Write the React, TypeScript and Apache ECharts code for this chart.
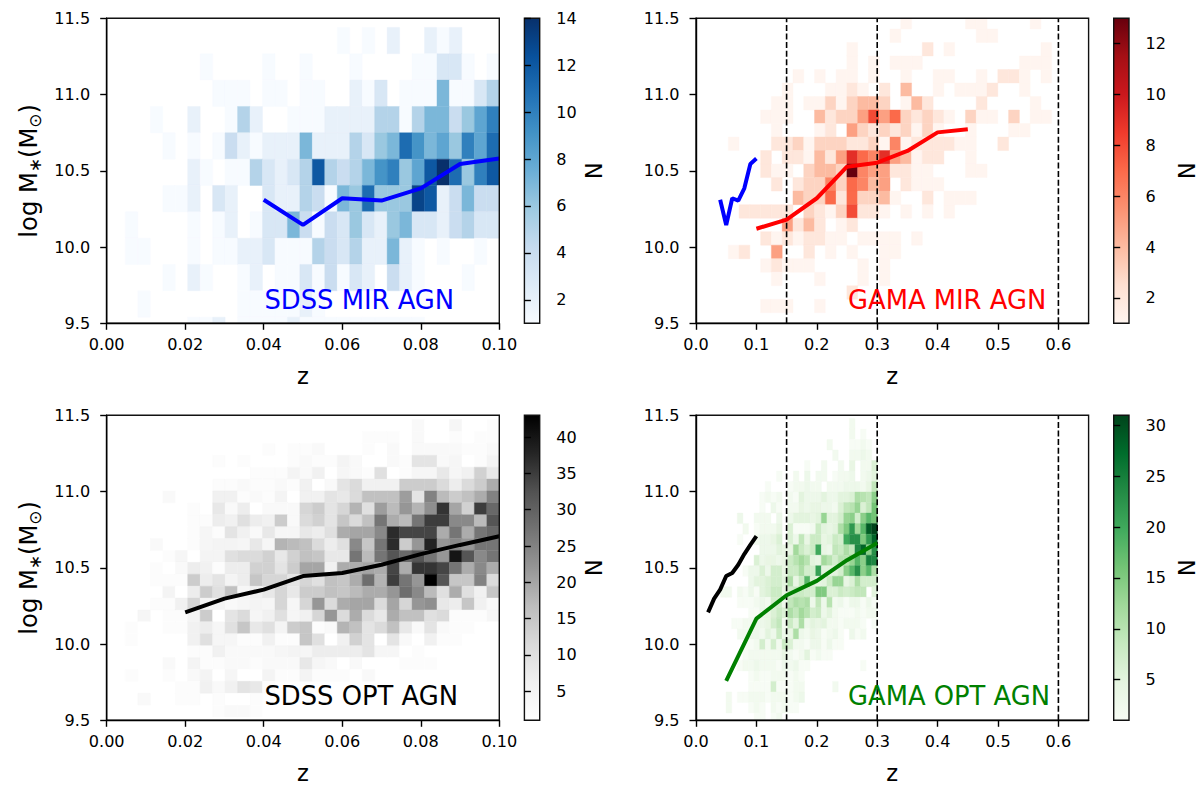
import React, { useEffect, useRef } from "react";
import * as echarts from "echarts";

// ---- histogram counts, top row first, left column first ----
const sdssMirCounts = [
  [0,0,0,0,0,0,0,0,0,0,0,0,0,0,0,0,0,0,0,1,0,1,0,2,0,0,2,1,2,0,0,0],
  [0,0,0,0,0,0,0,0,1,0,0,0,0,1,0,0,1,0,0,0,1,0,0,0,0,1,1,3,3,1,0,1],
  [0,0,0,0,0,0,0,0,0,1,1,1,0,1,1,0,1,1,0,0,2,1,3,0,1,1,1,7,1,1,3,5],
  [0,0,0,0,1,0,0,2,0,0,1,5,2,0,0,1,1,1,2,2,2,2,5,5,1,5,7,7,4,6,8,10],
  [0,0,0,0,0,1,0,1,0,1,4,2,1,2,2,2,7,2,2,2,5,3,6,7,11,9,7,8,6,10,8,11],
  [0,0,0,0,0,0,0,2,1,0,1,1,5,3,2,3,5,12,5,4,5,7,9,10,6,8,12,14,11,6,10,12],
  [0,0,0,0,0,1,1,2,0,3,2,0,0,3,2,2,5,4,1,7,6,11,6,6,6,13,12,2,4,7,4,4],
  [0,0,1,0,0,0,0,1,0,1,2,0,1,3,3,7,4,1,4,3,6,3,2,6,7,3,3,2,4,5,3,3],
  [0,0,1,1,0,0,0,1,0,1,1,2,2,3,1,1,1,5,4,3,5,2,2,7,2,1,0,1,0,0,1,0],
  [0,0,0,0,0,1,0,2,1,0,0,1,2,0,1,1,3,1,4,1,3,2,0,4,2,1,0,0,0,1,0,0],
  [0,0,0,1,0,0,0,0,0,0,0,1,1,1,1,1,2,1,0,0,0,0,0,0,0,0,0,0,0,0,0,0],
  [0,0,0,0,0,0,0,1,1,2,0,1,1,1,1,2,1,1,1,1,1,1,1,1,1,1,0,0,0,0,0,0],
];

const gamaMirCounts = [
  [0,0,0,0,0,0,0,0,0,0,0,0,0,0,0,0,1,0,0,0,0,0,1,1,0,0,0,0,1,0,0],
  [0,0,0,0,0,0,0,0,0,0,0,0,0,0,0,1,0,0,0,0,0,0,0,1,1,0,0,0,0,0,0],
  [0,0,0,0,0,0,0,0,0,0,0,1,0,0,0,0,0,0,2,0,1,0,0,0,0,0,0,0,0,1,0],
  [0,0,0,0,0,0,0,0,0,0,0,1,0,1,0,1,1,1,0,0,0,0,0,0,0,0,0,1,1,1,0],
  [0,0,0,0,0,0,1,0,1,0,1,1,0,1,0,0,1,0,0,1,1,0,0,1,0,2,2,1,0,1,0],
  [0,0,0,0,0,1,0,0,0,1,1,2,1,0,2,0,4,0,0,1,0,1,1,1,2,0,0,1,0,0,0],
  [0,0,0,0,1,1,0,1,1,3,1,3,4,4,3,0,1,4,2,0,0,0,0,2,0,0,0,0,1,0,0],
  [0,0,0,1,1,1,0,0,4,2,3,3,5,8,5,7,3,2,3,2,1,0,3,1,1,0,3,0,1,1,0],
  [0,0,0,0,1,0,0,0,1,2,0,5,3,2,3,2,3,1,3,1,0,0,1,0,0,0,1,1,0,0,0],
  [1,0,0,0,2,2,3,1,3,3,3,2,2,3,1,6,1,2,2,2,2,1,1,0,0,2,0,0,0,0,0],
  [0,0,0,2,0,2,2,1,4,2,5,9,7,6,9,5,4,1,2,2,0,0,1,0,0,0,0,0,0,0,0],
  [0,0,0,2,1,1,0,3,4,4,3,13,6,5,5,2,2,1,1,0,0,0,1,1,0,0,0,0,0,0,0],
  [0,0,0,0,2,0,2,3,3,6,3,7,6,4,5,0,2,1,1,1,0,0,0,0,0,0,0,0,0,0,0],
  [0,0,0,0,0,0,4,3,3,7,2,7,3,3,4,1,0,0,2,0,1,1,1,0,0,0,0,0,0,0,0],
  [0,2,2,2,2,2,0,3,2,1,3,8,2,2,1,0,1,0,1,0,1,0,0,0,0,0,0,0,0,0,0],
  [0,0,0,0,0,5,2,4,2,0,1,2,0,0,0,0,0,0,0,0,0,0,0,0,0,0,0,0,0,0,0],
  [0,0,0,2,1,2,1,2,2,1,1,0,1,1,1,1,0,1,0,0,0,0,0,0,0,0,0,0,0,0,0],
  [1,2,0,0,5,0,0,2,0,1,0,1,0,0,1,1,0,0,0,0,0,0,0,0,0,0,0,0,0,0,0],
  [0,0,0,1,2,1,1,1,0,0,0,0,1,0,1,0,0,0,0,0,0,0,0,0,0,0,0,0,0,0,0],
  [0,0,0,0,1,0,0,0,1,0,0,0,1,0,1,0,0,0,0,0,0,0,0,0,0,0,0,0,0,0,0],
  [0,0,0,0,0,0,0,0,0,0,0,2,0,0,0,0,0,0,0,0,0,0,0,0,0,0,0,0,0,0,0],
  [0,0,0,1,1,1,0,0,1,0,0,0,0,0,0,0,0,0,0,0,0,0,0,0,0,0,0,0,0,0,0],
];

const sdssOptCounts = [
  [0,0,0,0,0,0,0,0,0,0,0,0,0,0,0,0,1,1,1,1,1,1,1,1,1,3,1,1,4,1,1,2],
  [0,0,0,0,0,0,0,0,0,0,0,0,0,0,0,0,1,1,1,1,1,2,2,2,1,3,1,1,2,1,2,2],
  [0,0,0,0,0,0,0,0,0,0,0,0,0,2,0,2,2,3,1,1,1,2,1,3,1,3,3,3,3,2,2,3],
  [0,0,0,0,0,0,0,0,0,2,0,2,0,0,0,2,3,2,2,5,3,1,1,3,2,9,9,3,4,1,2,5],
  [0,0,0,0,0,0,0,0,1,0,0,1,2,2,2,5,3,6,1,4,3,2,10,1,2,4,4,8,4,6,13,8],
  [0,0,0,0,0,0,0,0,1,2,2,3,2,2,3,2,6,1,3,9,11,6,6,6,14,14,14,11,7,11,14,19],
  [0,0,0,0,0,3,0,0,0,6,6,2,3,2,5,1,6,6,9,8,11,16,16,16,21,9,25,17,14,16,19,25],
  [0,0,0,0,0,0,0,2,1,8,3,7,1,3,3,3,12,14,9,12,18,10,21,17,22,18,23,36,20,13,35,29],
  [0,0,0,0,0,0,0,2,2,7,6,10,7,6,14,3,11,13,9,15,11,16,27,19,17,27,35,35,24,24,17,32],
  [0,0,0,0,0,0,0,2,4,2,9,6,3,8,4,4,8,7,10,19,20,20,24,37,34,34,34,19,27,19,27,29],
  [0,0,0,0,3,0,0,2,4,5,5,4,8,4,18,17,16,11,7,10,24,15,27,37,14,22,38,22,24,22,27,27],
  [0,0,0,0,0,2,4,1,5,5,10,11,11,13,8,13,16,15,8,8,27,17,27,32,29,32,27,22,40,32,24,27],
  [0,0,0,0,2,1,3,7,6,2,7,7,13,13,9,14,20,20,6,19,19,20,19,34,19,36,36,34,27,19,24,19],
  [0,0,0,0,2,2,2,14,7,9,5,7,15,12,12,9,12,10,16,15,19,28,18,35,27,22,43,32,15,15,25,11],
  [0,0,0,0,0,5,1,7,14,10,16,4,6,8,12,8,14,14,16,15,17,19,19,22,28,24,17,10,19,10,6,15],
  [0,0,0,0,2,2,6,12,5,5,3,4,5,4,12,4,12,22,11,19,20,20,11,20,12,22,23,8,7,15,6,3],
  [0,0,0,4,0,2,2,5,14,1,9,11,4,6,10,4,6,12,22,11,19,11,8,19,16,16,10,11,2,2,2,4],
  [0,0,2,1,1,2,2,6,7,4,10,15,8,10,5,14,15,2,3,18,16,9,11,16,8,3,9,3,2,2,1,1],
  [0,0,2,1,1,1,1,6,10,4,4,2,2,6,2,2,15,10,1,6,13,9,1,9,3,1,6,2,2,1,1,1],
  [0,0,0,0,0,0,0,2,2,6,3,3,3,3,4,5,4,7,7,7,7,9,4,4,1,2,1,1,1,1,1,1],
  [0,0,0,0,0,3,0,5,2,2,3,3,2,3,3,3,8,4,3,1,3,1,1,1,2,2,2,0,0,0,0,0],
  [0,0,2,0,0,2,0,3,5,1,4,1,1,5,2,2,5,2,2,2,1,3,0,0,0,0,0,0,0,0,0,0],
  [0,0,0,0,0,0,2,2,6,3,6,9,8,2,0,0,0,0,0,0,0,0,0,0,0,0,0,0,0,0,0,0],
  [0,0,0,3,0,0,2,2,0,2,1,1,2,0,0,0,0,0,0,0,0,0,0,0,0,0,0,0,0,0,0,0],
  [0,0,0,0,0,0,0,0,0,2,3,3,2,1,0,0,0,0,0,0,0,0,0,0,0,0,0,0,0,0,0,0],
];

const gamaOptCounts = [
  [0,0,0,0,0,0,0,0,0,0,0,0,0,0,0,0,0,0,0,0,0,0,0,2,0,0,0,0],
  [0,0,0,0,0,0,0,0,0,0,0,0,0,0,0,0,0,0,0,0,0,0,0,2,0,1,0,0],
  [0,0,0,0,0,0,0,0,0,0,0,0,0,0,0,0,0,0,0,2,0,0,0,1,1,2,1,0],
  [0,0,0,0,0,0,0,0,0,0,0,0,0,0,0,0,0,0,0,0,2,0,0,2,2,3,2,0],
  [0,0,0,0,0,0,0,0,0,0,0,0,0,0,0,1,0,0,2,0,0,2,0,4,0,2,2,6],
  [0,0,0,0,0,0,0,0,0,0,1,0,0,2,0,3,0,2,2,0,1,2,2,3,0,2,3,5],
  [0,0,0,0,0,0,0,0,1,0,0,0,1,2,2,3,2,2,0,2,2,2,3,3,3,2,4,9],
  [0,0,0,0,0,0,0,1,2,1,2,0,2,1,5,3,3,3,5,3,3,5,5,6,11,10,9,14],
  [0,0,0,0,0,0,0,1,0,3,1,0,2,2,4,3,4,4,3,3,2,6,9,10,13,6,9,16],
  [0,0,0,3,0,0,2,2,2,0,3,0,3,5,5,5,4,5,13,5,5,7,13,14,7,14,18,16],
  [0,0,0,0,2,0,1,2,2,2,4,0,6,1,1,1,2,8,5,4,5,11,15,22,12,18,29,31],
  [0,0,0,1,0,0,2,3,3,4,6,0,6,3,9,4,8,8,4,5,8,7,20,23,23,15,22,28],
  [0,0,0,0,0,0,0,3,3,3,5,4,4,12,8,6,8,20,4,3,9,8,11,9,24,28,14,23],
  [0,0,0,0,0,0,6,3,4,4,3,4,8,10,12,10,5,4,12,10,7,10,10,13,18,14,25,24],
  [0,0,0,0,1,3,3,6,3,7,7,4,8,8,11,7,7,21,5,5,5,7,14,18,23,14,18,11],
  [0,0,0,0,0,3,5,5,6,7,7,5,11,4,8,18,6,4,5,8,13,13,4,6,11,7,7,7],
  [2,2,0,2,1,3,1,5,6,8,8,4,7,8,8,7,7,15,15,6,6,8,7,8,9,9,0,5],
  [0,0,0,1,1,1,2,3,2,7,7,3,9,11,10,11,3,9,3,10,2,3,1,3,3,1,3,1],
  [0,0,0,0,0,1,1,3,4,6,8,6,11,9,12,10,7,8,3,5,2,1,1,1,2,1,2,2],
  [0,0,1,1,2,2,3,3,4,7,9,2,8,5,11,3,5,4,5,2,2,1,2,2,2,1,0,1],
  [0,0,0,2,2,3,3,2,5,3,8,3,4,11,3,2,4,3,1,2,3,1,0,3,1,2,0,0],
  [0,0,0,0,1,1,2,7,2,7,2,8,6,2,2,1,3,3,1,3,1,1,0,0,0,0,0,0],
  [0,0,0,0,1,2,2,2,2,2,2,4,2,1,2,5,1,2,1,1,0,0,0,0,0,0,0,0],
  [0,0,0,1,2,2,3,2,2,2,1,3,2,3,1,1,0,0,0,0,0,0,0,0,0,1,0,0],
  [0,0,0,0,0,1,2,1,1,2,2,2,1,2,1,0,0,0,0,0,0,0,0,0,0,0,0,0],
  [0,0,0,0,0,1,1,1,1,7,1,1,1,2,2,0,0,0,0,0,2,0,0,0,0,0,0,0],
  [0,2,0,1,1,2,2,2,1,2,2,2,1,2,3,0,0,0,0,0,0,0,0,0,0,0,0,0],
  [0,2,0,0,0,1,2,1,0,2,1,2,1,1,0,0,0,0,0,0,0,0,0,0,0,0,0,0],
  [0,0,0,0,0,0,1,1,0,1,2,0,0,0,0,0,0,0,0,0,0,0,0,0,0,0,0,0],
];

// ---- median lines ----
const sdssMirLine = [[0.04,10.31],[0.05,10.145],[0.06,10.32],[0.07,10.305],[0.08,10.385],[0.09,10.545],[0.1,10.58]];
const gamaMirLine = [[0.1,10.12],[0.15,10.18],[0.2,10.32],[0.25,10.527],[0.3,10.553],[0.35,10.63],[0.4,10.752],[0.45,10.772]];
const sdssOptLine = [[0.02,10.208],[0.03,10.298],[0.04,10.357],[0.05,10.446],[0.06,10.466],[0.07,10.52],[0.08,10.59],[0.09,10.65],[0.1,10.707]];
const gamaOptLine = [[0.05,9.758],[0.1,10.167],[0.15,10.32],[0.2,10.414],[0.25,10.55],[0.3,10.663]];

// ---- redshift cuts and ticks ----
const zCuts = [0.15, 0.3, 0.6];
const sdssZTicks = 0.02;
const gamaZTicks = 0.1;
const cbarTicksMir = [2, 4, 6, 8, 10, 12, 14];
const cbarTicksGama = [2, 4, 6, 8, 10, 12];
const cbarTicksOpt = [5, 10, 15, 20, 25, 30, 35, 40];
const cbarTicksGamaOpt = [5, 10, 15, 20, 25, 30];

// ---- colormaps ----
const Blues = ["#f7fbff","#deebf7","#c6dbef","#9ecae1","#6baed6","#4292c6","#2171b5","#08519c","#08306b"];
const Reds = ["#fff5f0","#fee0d2","#fcbba1","#fc9272","#fb6a4a","#ef3b2c","#cb181d","#a50f15","#67000d"];
const Greys = ["#ffffff","#f0f0f0","#d9d9d9","#bdbdbd","#969696","#737373","#525252","#252525","#000000"];
const Greens = ["#f7fcf5","#e5f5e0","#c7e9c0","#a1d99b","#74c476","#41ab5d","#238b45","#006d2c","#00441b"];

const FONT = '"DejaVu Sans"';

function hex(c: string) {
  return [1, 3, 5].map((i) => parseInt(c.slice(i, i + 2), 16));
}
function cmap(stops: string[], t: number) {
  const s = Math.max(0, Math.min(1, t)) * (stops.length - 1);
  const i = Math.min(stops.length - 2, Math.floor(s));
  const a = hex(stops[i]);
  const b = hex(stops[i + 1]);
  const f = s - i;
  return `rgb(${a.map((v, j) => Math.round(v + (b[j] - v) * f)).join(",")})`;
}

type Panel = {
  counts: number[][];
  zStart: number; zStep: number; yTop: number; yStep: number;
  stops: string[]; vmax: number; cbarTicks: number[];
  left: number; top: number; xMax: number; xStep: number; xDigits: number;
  lines: { data: number[][]; color: string }[];
  cuts: number[];
  label: string; labelColor: string; labelX: number; labelY: number;
  yName: boolean; nGap: number;
};

const W = 392.6;
const H = 305;
const panels: Panel[] = [
  {
    counts: sdssMirCounts, zStart: -0.1 / 63, zStep: 0.1 / 31.5, yTop: 11.44, yStep: 0.1727,
    stops: Blues, vmax: 14, cbarTicks: cbarTicksMir,
    left: 106.7, top: 18.3, xMax: 0.1, xStep: sdssZTicks, xDigits: 2,
    lines: [{ data: sdssMirLine, color: "#0000ff" }], cuts: [],
    label: "SDSS MIR AGN", labelColor: "#0000ff", labelX: 264.5, labelY: 299.5, yName: true, nGap: 42,
  },
  {
    counts: gamaMirCounts, zStart: 0.05344, zStep: 0.01785, yTop: 11.519, yStep: 0.08863,
    stops: Reds, vmax: 13, cbarTicks: cbarTicksGama,
    left: 696, top: 18.3, xMax: 0.65, xStep: gamaZTicks, xDigits: 1,
    lines: [{ data: sdssMirLine, color: "#0000ff" }, { data: gamaMirLine, color: "#ff0000" }], cuts: zCuts,
    label: "GAMA MIR AGN", labelColor: "#ff0000", labelX: 848, labelY: 299.5, yName: false, nGap: 45,
  },
  {
    counts: sdssOptCounts, zStart: -0.1 / 63, zStep: 0.1 / 31.5, yTop: 11.472, yStep: 0.07803,
    stops: Greys, vmax: 43, cbarTicks: cbarTicksOpt,
    left: 106.7, top: 415.3, xMax: 0.1, xStep: sdssZTicks, xDigits: 2,
    lines: [{ data: sdssOptLine, color: "#000000" }], cuts: [],
    label: "SDSS OPT AGN", labelColor: "#000000", labelX: 264.5, labelY: 696, yName: true, nGap: 42,
  },
  {
    counts: gamaOptCounts, zStart: 0.0405, zStep: 0.009278, yTop: 11.4795, yStep: 0.06898,
    stops: Greens, vmax: 31, cbarTicks: cbarTicksGamaOpt,
    left: 696, top: 415.3, xMax: 0.65, xStep: gamaZTicks, xDigits: 1,
    lines: [{ data: sdssOptLine, color: "#000000" }, { data: gamaOptLine, color: "#008000" }], cuts: zCuts,
    label: "GAMA OPT AGN", labelColor: "#008000", labelX: 848, labelY: 696, yName: false, nGap: 45,
  },
];

const AX = { color: "#000", width: 1.4 };

function buildOption() {
  const grid: any[] = [];
  const xAxis: any[] = [];
  const yAxis: any[] = [];
  const series: any[] = [];
  const graphic: any[] = [];

  panels.forEach((p) => {
    const gi = grid.length;
    grid.push({ left: p.left, top: p.top, width: W, height: H, show: true, borderColor: "#111", borderWidth: 1.4, backgroundColor: "transparent", z: 5 });
    xAxis.push({
      type: "value", gridIndex: gi, min: 0, max: p.xMax, interval: p.xStep, z: 6,
      name: "z", nameLocation: "middle", nameGap: 41,
      nameTextStyle: { fontFamily: FONT, fontSize: 22.6, color: "#000" },
      axisLine: { show: true, onZero: false, lineStyle: AX },
      axisTick: { show: true, length: 6.5, lineStyle: AX },
      splitLine: { show: false },
      axisLabel: {
        fontFamily: FONT, fontSize: 16.1, color: "#000", margin: 13, showMaxLabel: p.xMax === 0.1,
        hideOverlap: false,
        formatter: (v: number) => (v > p.xMax - 0.001 && p.xMax !== 0.1 ? "" : v.toFixed(p.xDigits)),
      },
    });
    yAxis.push({
      type: "value", gridIndex: gi, min: 9.5, max: 11.5, interval: 0.5, z: 6,
      ...(p.yName
        ? {
            name: "{a|log M}{b|∗}{a|(M}{b|⊙}{a|)}", nameLocation: "middle", nameGap: 63, nameRotate: 90,
            nameTextStyle: {
              fontFamily: FONT, fontSize: 24.2, color: "#000",
              rich: {
                a: { fontFamily: FONT, fontSize: 24.2, color: "#000", lineHeight: 30, verticalAlign: "middle" },
                b: { fontFamily: FONT, fontSize: 17, color: "#000", lineHeight: 30, verticalAlign: "bottom" },
              },
            },
          }
        : {}),
      axisLine: { show: true, onZero: false, lineStyle: AX },
      axisTick: { show: true, length: 6.5, lineStyle: AX },
      splitLine: { show: false },
      axisLabel: { fontFamily: FONT, fontSize: 16.1, color: "#000", margin: 16.5, formatter: (v: number) => v.toFixed(1) },
    });

    const cells: number[][] = [];
    p.counts.forEach((row, r) =>
      row.forEach((n, c) => {
        if (n > 0) {
          cells.push([
            p.zStart + c * p.zStep,
            p.zStart + (c + 1) * p.zStep,
            p.yTop - (r + 1) * p.yStep,
            p.yTop - r * p.yStep,
            n,
          ]);
        }
      })
    );
    series.push({
      type: "custom", xAxisIndex: gi, yAxisIndex: gi, clip: true, silent: true, z: 1,
      data: cells, encode: { x: [0, 1], y: [2, 3] },
      renderItem: (_: any, api: any) => {
        const a = api.coord([api.value(0), api.value(3)]);
        const b = api.coord([api.value(1), api.value(2)]);
        const col = cmap(p.stops, (api.value(4) - 1) / (p.vmax - 1));
        return {
          type: "rect",
          shape: { x: a[0], y: a[1], width: b[0] - a[0], height: b[1] - a[1] },
          style: { fill: col, stroke: col, lineWidth: 0.4 },
        };
      },
    });
    p.cuts.forEach((z) =>
      series.push({
        type: "line", xAxisIndex: gi, yAxisIndex: gi, silent: true, showSymbol: false, z: 3,
        data: [[z, 9.5], [z, 11.5]],
        lineStyle: { color: "#000", width: 1.6, type: [6, 2.6] },
      })
    );
    p.lines.forEach((l) =>
      series.push({
        type: "line", xAxisIndex: gi, yAxisIndex: gi, silent: true, showSymbol: false, z: 4, clip: true,
        data: l.data, lineStyle: { color: l.color, width: 4 },
      })
    );
    graphic.push({
      type: "text", x: p.labelX, y: p.labelY, z: 10, silent: true,
      style: { text: p.label, fill: p.labelColor, font: `25.8px ${FONT}`, textVerticalAlign: "middle" },
    });

    // colour bar
    const ci = grid.length;
    const cbLeft = p.left + 417.7;
    grid.push({ left: cbLeft, top: p.top, width: 15.3, height: H, show: true, borderColor: "#111", borderWidth: 1.4, backgroundColor: "transparent", z: 5 });
    xAxis.push({ type: "value", gridIndex: ci, min: 0, max: 1, show: false });
    yAxis.push({
      type: "value", gridIndex: ci, min: 1, max: p.vmax, position: "right", z: 6,
      name: "N", nameLocation: "middle", nameRotate: -90, nameGap: p.nGap,
      nameTextStyle: { fontFamily: FONT, fontSize: 22.6, color: "#000" },
      axisLine: { show: false },
      axisTick: { show: true, length: 6.5, lineStyle: AX, customValues: p.cbarTicks },
      splitLine: { show: false },
      axisLabel: { fontFamily: FONT, fontSize: 16.1, color: "#000", margin: 16.5, customValues: p.cbarTicks, formatter: (v: number) => String(v) },
    });
    series.push({
      type: "custom", xAxisIndex: ci, yAxisIndex: ci, silent: true, z: 1,
      data: [[0, 1, 1, p.vmax]], encode: { x: [0, 1], y: [2, 3] },
      renderItem: (_: any, api: any) => {
        const a = api.coord([0, p.vmax]);
        const b = api.coord([1, 1]);
        const n = p.stops.length - 1;
        return {
          type: "rect",
          shape: { x: a[0], y: a[1], width: b[0] - a[0], height: b[1] - a[1] },
          style: {
            fill: new echarts.graphic.LinearGradient(0, 1, 0, 0, p.stops.map((c, i) => ({ offset: i / n, color: c }))),
          },
        };
      },
    });
  });

  return { animation: false, backgroundColor: "#fff", grid, xAxis, yAxis, series, graphic };
}

export default function App() {
  const ref = useRef<HTMLDivElement>(null);
  useEffect(() => {
    document.body.style.margin = "0";
    const chart = echarts.init(ref.current!, undefined, { renderer: "svg" });
    chart.setOption(buildOption() as any);
    return () => chart.dispose();
  }, []);
  return <div ref={ref} style={{ width: 1200, height: 787, position: "absolute", left: 0, top: 0 }} />;
}
